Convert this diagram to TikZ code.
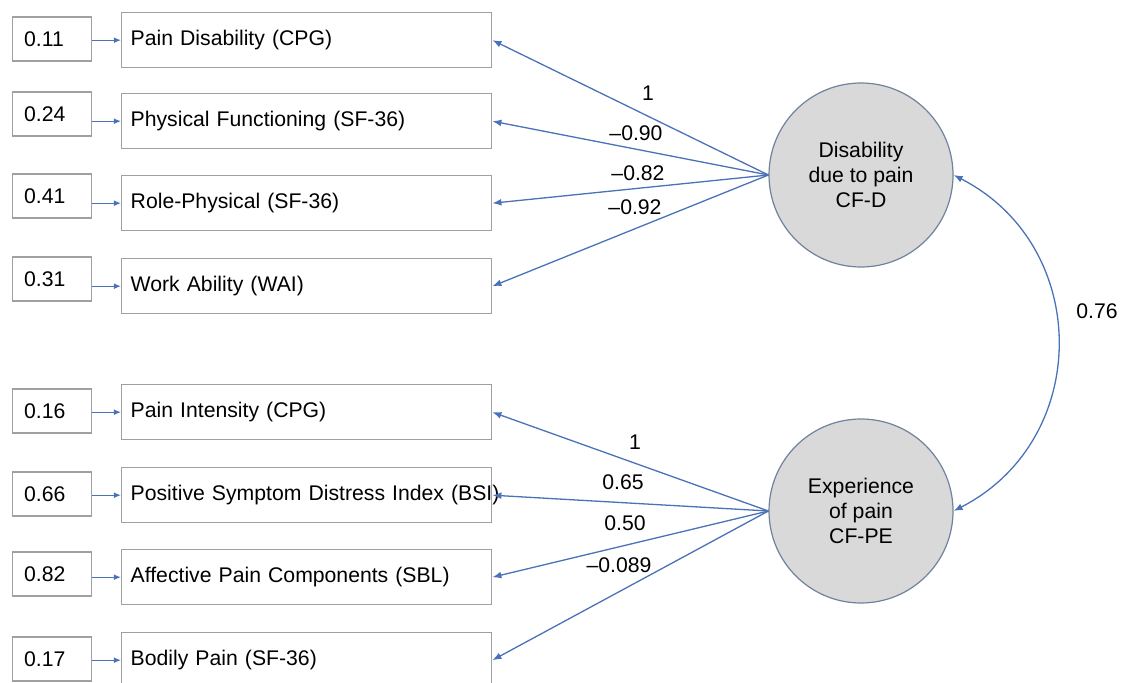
\documentclass[tikz,border=0pt]{standalone}
\usepackage{fontspec}
\setmainfont{Liberation Sans}
\usetikzlibrary{arrows.meta}
\definecolor{boxgray}{HTML}{A0A0A0}
\definecolor{lineblue}{HTML}{4A72B8}
\definecolor{circfill}{HTML}{D9D9D9}
\definecolor{circline}{HTML}{71829C}
\begin{document}
\begin{tikzpicture}[x=0.5pt,y=-0.5pt,
  font=\fontsize{10.6pt}{12.6pt}\selectfont,
  sbox/.style={draw=boxgray,line width=0.7pt,anchor=west,minimum height=22pt,
    text width=28pt,inner xsep=5.75pt,inner ysep=0pt,align=left},
  bbox/.style={draw=boxgray,line width=0.7pt,anchor=north west,minimum height=27.5pt,
    text width=176pt,inner xsep=4.5pt,inner ysep=0pt,align=left},
  latent/.style={circle,draw=circline,line width=0.6pt,fill=circfill,
    minimum size=92pt,inner sep=0pt,align=center},
  lin/.style={draw=lineblue,line width=0.65pt},
  errarrow/.style={lin,-{Latex[length=3.6pt,width=3pt]}},
  loadarrow/.style={lin,-{Latex[length=4.5pt,width=3.4pt]}},
  coef/.style={inner sep=0pt}]
\useasboundingbox (0,0) rectangle (1127,683);

% observed variables
\foreach \i/\yt/\lab in {
  1/12/{Pain Disability (CPG)},
  2/93/{Physical Functioning (SF-36)},
  3/175/{Role-Physical (SF-36)},
  4/258/{Work Ability (WAI)},
  5/384/{Pain Intensity (CPG)},
  6/467/{Positive Symptom Distress Index (BSI)},
  7/549/{Affective Pain Components (SBL)},
  8/632/{Bodily Pain (SF-36)}}
  \node[bbox] (b\i) at (121,\yt) {\mbox{\lab}};

% error terms
\foreach \i/\yc/\val in {1/39/0.11, 2/114/0.24, 3/196/0.41, 4/279/0.31,
  5/411/0.16, 6/494/0.66, 7/574/0.82, 8/659/0.17}
  \node[sbox] (s\i) at (12,\yc) {\val};

\foreach \i in {1,...,8}
  \draw[errarrow] (s\i.east |- b\i.west) -- (b\i.west);

% latent factors
\node[latent] (D) at (861,175) {Disability\\due to pain\\CF-D};
\node[latent] (E) at (861,511) {Experience\\of pain\\CF-PE};

\foreach \i in {1,...,4}
  \draw[loadarrow] (D.west) -- (b\i.east);
\foreach \i in {5,...,8}
  \draw[loadarrow] (E.west) -- (b\i.east);

% covariance
\draw[lin,{Latex[length=4.5pt,width=3.4pt]}-{Latex[length=4.5pt,width=3.4pt]}]
  (D.east) .. controls (1092,246) and (1092,440) .. (E.east);

% coefficients
\node[coef] (c1) at (648,93) {1};
\node[coef] (c2) at (636,133) {–0.90};
\node[coef] (c3) at (638,173) {–0.82};
\node[coef] (c4) at (635,207) {–0.92};
\node[coef] (c5) at (635,442) {1};
\node[coef] (c6) at (623,482) {0.65};
\node[coef] (c7) at (625,523) {0.50};
\node[coef] (c8) at (619,565) {–0.089};
\node[coef] (r) at (1097,311) {0.76};
\end{tikzpicture}
\end{document}
